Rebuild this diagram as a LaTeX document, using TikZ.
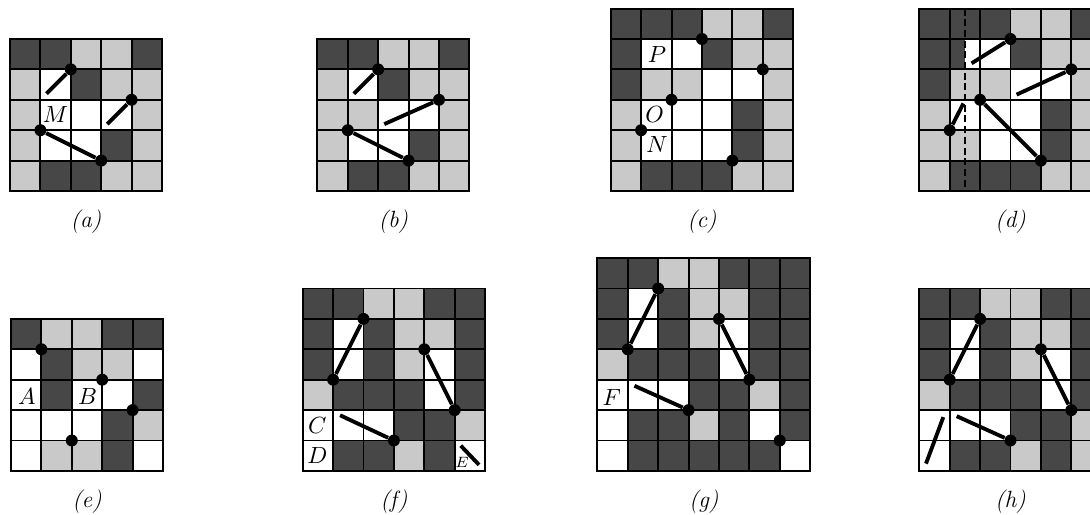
\documentclass[tikz,border=0pt]{standalone}
\usepackage{xcolor}
\usepackage{tikz}
\usetikzlibrary{calc}

\colorlet{dk}{black!72}
\colorlet{lt}{black!21}
\colorlet{wt}{white}

% one row of cells, colours given left to right
\newcommand{\cellrow}[2]{\foreach \cl [count=\ci from 0] in {#2} {\fill[\cl] (\ci,#1) rectangle ++(1,1);}}
% lines of an n x n board
\newcommand{\cellgrid}[1]{\foreach \k in {0,...,#1} {\draw[gridline] (\k,0) -- (\k,#1); \draw[gridline] (0,\k) -- (#1,\k);}}

\begin{document}
\begin{tikzpicture}[
    x=0.5cm, y=0.5cm,
    gridline/.style={draw=black, line width=0.9pt, line cap=rect},
    dot/.style={circle, fill=black, inner sep=0pt, minimum size=5.6pt},
    seg/.style={line width=1.8pt},
    cut/.style={line width=0.8pt, dash pattern=on 3.3pt off 1.7pt},
    lbl/.style={inner sep=0pt, font=\fontsize{10.8}{13}\selectfont},
    subcap/.style={font=\fontsize{11}{13}\selectfont\itshape}
]
\useasboundingbox (0,0) rectangle (35.855,-16.908);

% (a)
\begin{scope}[shift={(0.329,-1.283)}, yscale=-1]
\cellrow{0}{dk,dk,lt,lt,dk}
\cellrow{1}{lt,wt,dk,lt,lt}
\cellrow{2}{lt,wt,wt,wt,lt}
\cellrow{3}{lt,wt,wt,dk,lt}
\cellrow{4}{lt,dk,dk,lt,lt}
\cellgrid{5}
\node[lbl] (lM) at (1.5,2.5) {$M$};
\node[dot] (a1) at (2,1) {};
\node[dot] (a2) at (4,2) {};
\node[dot] (a3) at (1,3) {};
\node[dot] (a4) at (3,4) {};
\coordinate (a1e) at (1.2,1.8);
\coordinate (a2e) at (3.2,2.8);
\draw[seg] (a1) -- (a1e);
\draw[seg] (a2) -- (a2e);
\draw[seg] (a3) -- (a4);
\node[subcap] (capa) at (2.5,6.02) {(a)};
\end{scope}

% (b)
\begin{scope}[shift={(10.44,-1.283)}, yscale=-1]
\cellrow{0}{dk,dk,lt,lt,dk}
\cellrow{1}{lt,wt,dk,lt,lt}
\cellrow{2}{lt,lt,wt,wt,lt}
\cellrow{3}{lt,wt,wt,dk,lt}
\cellrow{4}{lt,dk,dk,lt,lt}
\cellgrid{5}
\node[dot] (b1) at (2,1) {};
\node[dot] (b2) at (4,2) {};
\node[dot] (b3) at (1,3) {};
\node[dot] (b4) at (3,4) {};
\coordinate (b1e) at (1.2,1.8);
\coordinate (b2e) at (2.2,2.8);
\draw[seg] (b1) -- (b1e);
\draw[seg] (b2) -- (b2e);
\draw[seg] (b3) -- (b4);
\node[subcap] (capb) at (2.5,6.02) {(b)};
\end{scope}

% (c)
\begin{scope}[shift={(20.09,-0.283)}, yscale=-1]
\cellrow{0}{dk,dk,dk,lt,lt,dk}
\cellrow{1}{dk,wt,wt,dk,lt,lt}
\cellrow{2}{dk,lt,lt,wt,wt,lt}
\cellrow{3}{lt,wt,wt,wt,dk,lt}
\cellrow{4}{lt,wt,wt,wt,dk,lt}
\cellrow{5}{lt,dk,dk,dk,lt,lt}
\cellgrid{6}
\node[lbl] (lP) at (1.52,1.52) {$P$};
\node[lbl] (lO) at (1.44,3.5) {$O$};
\node[lbl] (lN) at (1.52,4.47) {$N$};
\node[dot] (c1) at (3,1) {};
\node[dot] (c2) at (5,2) {};
\node[dot] (c3) at (2,3) {};
\node[dot] (c4) at (1,4) {};
\node[dot] (c5) at (4,5) {};
\node[subcap] (capc) at (3,7.02) {(c)};
\end{scope}

% (d)
\begin{scope}[shift={(30.24,-0.283)}, yscale=-1]
\cellrow{0}{dk,dk,dk,lt,lt,dk}
\cellrow{1}{dk,wt,wt,dk,lt,lt}
\cellrow{2}{dk,lt,lt,wt,wt,lt}
\cellrow{3}{lt,wt,wt,wt,dk,lt}
\cellrow{4}{lt,lt,wt,wt,dk,lt}
\cellrow{5}{lt,dk,dk,dk,lt,lt}
\fill[dk] (1,1) rectangle (1.5,2);
\cellgrid{6}
\coordinate (dtop) at (1.5,0);
\coordinate (dbot) at (1.5,6);
\draw[cut] (dtop) -- (dbot);
\node[dot] (d1) at (3,1) {};
\node[dot] (d2) at (5,2) {};
\node[dot] (d3) at (2,3) {};
\node[dot] (d4) at (1,4) {};
\node[dot] (d5) at (4,5) {};
\coordinate (d1e) at (1.72,1.8);
\coordinate (d2e) at (3.2,2.83);
\coordinate (d4e) at (1.45,3.12);
\draw[seg] (d1) -- (d1e);
\draw[seg] (d2) -- (d2e);
\draw[seg] (d3) -- (d5);
\draw[seg] (d4) -- (d4e);
\node[subcap] (capd) at (3,7.02) {(d)};
\end{scope}

% (e)
\begin{scope}[shift={(0.362,-10.49)}, yscale=-1]
\cellrow{0}{dk,lt,lt,dk,dk}
\cellrow{1}{wt,dk,lt,lt,wt}
\cellrow{2}{wt,dk,wt,wt,dk}
\cellrow{3}{wt,wt,wt,dk,lt}
\cellrow{4}{wt,lt,lt,dk,wt}
\cellgrid{5}
\node[lbl] (lA) at (0.52,2.55) {$A$};
\node[lbl] (lB) at (2.52,2.55) {$B$};
\node[dot] (e1) at (1,1) {};
\node[dot] (e2) at (3,2) {};
\node[dot] (e3) at (4,3) {};
\node[dot] (e4) at (2,4) {};
\node[subcap] (cape) at (2.5,6.02) {(e)};
\end{scope}

% (f)
\begin{scope}[shift={(9.957,-9.49)}, yscale=-1]
\cellrow{0}{dk,dk,lt,lt,dk,dk}
\cellrow{1}{dk,wt,dk,lt,lt,dk}
\cellrow{2}{dk,wt,dk,lt,wt,dk}
\cellrow{3}{lt,dk,dk,dk,wt,dk}
\cellrow{4}{wt,wt,wt,dk,dk,lt}
\cellrow{5}{wt,dk,dk,lt,dk,wt}
\cellgrid{6}
\node[lbl] (lC) at (0.48,4.5) {$C$};
\node[lbl] (lD) at (0.48,5.5) {$D$};
\node[lbl, font=\scriptsize] (lE) at (5.24,5.73) {$E$};
\node[dot] (f1) at (2,1) {};
\node[dot] (f2) at (1,3) {};
\node[dot] (f3) at (4,2) {};
\node[dot] (f4) at (5,4) {};
\node[dot] (f5) at (3,5) {};
\coordinate (f5e) at (1.23,4.17);
\coordinate (f6a) at (5.2,5.17);
\coordinate (f6b) at (5.8,5.8);
\draw[seg] (f2) -- (f1);
\draw[seg] (f3) -- (f4);
\draw[seg] (f5e) -- (f5);
\draw[seg] (f6a) -- (f6b);
\node[subcap] (capf) at (3,7.02) {(f)};
\end{scope}

% (g)
\begin{scope}[shift={(19.65,-8.49)}, yscale=-1]
\cellrow{0}{dk,dk,lt,lt,dk,dk,dk}
\cellrow{1}{dk,wt,dk,lt,lt,dk,dk}
\cellrow{2}{dk,wt,dk,lt,wt,dk,dk}
\cellrow{3}{lt,dk,dk,dk,wt,dk,dk}
\cellrow{4}{wt,wt,wt,dk,dk,lt,dk}
\cellrow{5}{wt,dk,dk,lt,dk,wt,dk}
\cellrow{6}{wt,dk,dk,dk,dk,dk,wt}
\cellgrid{7}
\node[lbl] (lF) at (0.47,4.6) {$F$};
\node[dot] (g1) at (2,1) {};
\node[dot] (g2) at (1,3) {};
\node[dot] (g3) at (4,2) {};
\node[dot] (g4) at (5,4) {};
\node[dot] (g5) at (3,5) {};
\node[dot] (g6) at (6,6) {};
\coordinate (g5e) at (1.22,4.2);
\draw[seg] (g2) -- (g1);
\draw[seg] (g3) -- (g4);
\draw[seg] (g5e) -- (g5);
\node[subcap] (capg) at (3.5,8.02) {(g)};
\end{scope}

% (h)
\begin{scope}[shift={(30.24,-9.49)}, yscale=-1]
\cellrow{0}{dk,dk,lt,lt,dk,dk}
\cellrow{1}{dk,wt,dk,lt,lt,dk}
\cellrow{2}{dk,wt,dk,lt,wt,dk}
\cellrow{3}{lt,dk,dk,dk,wt,dk}
\cellrow{4}{wt,wt,wt,dk,dk,lt}
\cellrow{5}{wt,dk,dk,lt,dk,lt}
\cellgrid{6}
\node[dot] (h1) at (2,1) {};
\node[dot] (h2) at (1,3) {};
\node[dot] (h3) at (4,2) {};
\node[dot] (h4) at (5,4) {};
\node[dot] (h5) at (3,5) {};
\coordinate (h5e) at (1.23,4.2);
\coordinate (h6a) at (0.79,4.23);
\coordinate (h6b) at (0.22,5.76);
\draw[seg] (h2) -- (h1);
\draw[seg] (h3) -- (h4);
\draw[seg] (h5e) -- (h5);
\draw[seg] (h6a) -- (h6b);
\node[subcap] (caph) at (3,7.02) {(h)};
\end{scope}
\end{tikzpicture}
\end{document}
